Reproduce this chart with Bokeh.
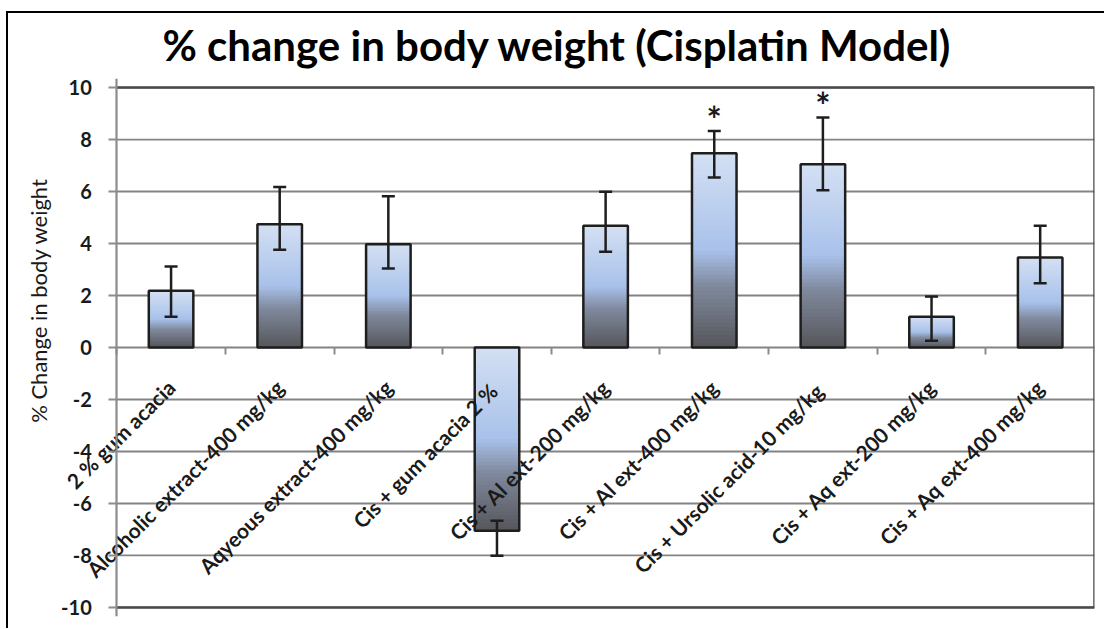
import numpy as np
from bokeh.plotting import figure
from bokeh.models import (Range1d, FixedTicker, LinearAxis, ColumnDataSource,
                          Whisker, TeeHead)
from bokeh.core.properties import value
from bokeh.embed import file_html
from bokeh.resources import INLINE

# ---------------- data ----------------
categories = [
    "2 % gum acacia",
    "Alcoholic extract-400 mg/kg",
    "Aqyeous extract-400 mg/kg",
    "Cis + gum  acacia 2 %",
    "Cis + Al ext-200 mg/kg",
    "Cis + Al ext-400 mg/kg",
    "Cis + Ursolic acid-10  mg/kg",
    "Cis + Aq ext-200 mg/kg",
    "Cis + Aq ext-400 mg/kg",
]
mean_change = [2.18, 4.74, 3.97, -7.05, 4.68, 7.47, 7.05, 1.18, 3.46]
err_plus = [0.94, 1.44, 1.85, 0.38, 1.31, 0.86, 1.80, 0.78, 1.22]
err_minus = [1.00, 0.98, 0.93, 0.96, 1.00, 0.93, 1.00, 0.92, 0.99]
significance = ["", "", "", "", "", "*", "*", "", ""]
y_ticks = [-10, -8, -6, -4, -2, 0, 2, 4, 6, 8, 10]

title_text = "% change in body weight (Cisplatin Model)"
y_title = "% Change in body weight"

# ---------------- style ----------------
FONT = "Lato"
n = len(categories)
xc = [i + 0.5 for i in range(n)]
bar_w = 0.41
left_pad = 1.07         # room (in category widths) for the y axis, inside the frame
y_pad = 0.35            # room so that the end tick labels are not clipped
GRID = "#838383"
INK = "#1a1a1a"

stops = [(0.0, (212, 224, 243)), (0.5, (168, 193, 234)),
         (0.68, (128, 138, 158)), (1.0, (86, 86, 90))]


def grad(t):
    for (t0, c0), (t1, c1) in zip(stops[:-1], stops[1:]):
        if t <= t1:
            f = (t - t0) / (t1 - t0)
            r, g, b = [int(round(a + (bb - a) * f)) for a, bb in zip(c0, c1)]
            return "#%02x%02x%02x" % (r, g, b)
    return "#%02x%02x%02x" % stops[-1][1]


# nested slices (each runs to the bar's bottom) -> seamless vertical gradient
NSLICE = 48
sl = dict(left=[], right=[], top=[], bottom=[], color=[])
for i, v in enumerate(mean_change):
    hi = max(v, 0.0)
    lo = min(v, 0.0)
    span = abs(v)
    for k in range(NSLICE):
        sl["left"].append(xc[i] - bar_w / 2)
        sl["right"].append(xc[i] + bar_w / 2)
        sl["top"].append(hi - span * k / NSLICE)
        sl["bottom"].append(lo)
        sl["color"].append(grad((k + 0.5) / NSLICE))

bars = ColumnDataSource(dict(
    x=xc, top=[max(v, 0) for v in mean_change], bottom=[min(v, 0) for v in mean_change],
    upper=[v + e for v, e in zip(mean_change, err_plus)],
    lower=[v - e for v, e in zip(mean_change, err_minus)],
))

p = figure(width=1104, height=628, x_range=Range1d(-left_pad, n),
           y_range=Range1d(y_ticks[0] - y_pad, y_ticks[-1] + y_pad),
           output_backend="svg", toolbar_location=None,
           x_axis_location=None, y_axis_location=None,
           min_border_left=0, min_border_right=10, min_border_top=78,
           min_border_bottom=12, title=title_text)
# white page with the outer chart border (top and left edges) drawn behind the
# transparent canvas, as in the reference
p.styles = {"background":
            "linear-gradient(#000,#000) 6px 11px / 2px 100% no-repeat, "
            "linear-gradient(#000,#000) 6px 11px / 100% 2px no-repeat, #ffffff"}
p.background_fill_color = None
p.border_fill_color = None
p.outline_line_color = None
p.xgrid.visible = False
p.ygrid.visible = False

p.title.text_font = FONT
p.title.text_font_size = "42px"
p.title.text_font_style = "bold"
p.title.text_color = "black"
p.title.align = "left"
p.title.offset = 162
p.title.standoff = 18

# horizontal grid lines across the plot area only
p.segment(x0=[0] * len(y_ticks), x1=[n] * len(y_ticks), y0=y_ticks, y1=y_ticks,
          line_color=GRID, line_width=1.9)
# plot-area border: dark top, right and bottom edges (left edge is the grey axis line)
p.multi_line(xs=[[0, n, n, 0]], ys=[[y_ticks[-1], y_ticks[-1], y_ticks[0], y_ticks[0]]],
             line_color="#4a4a4a", line_width=2.5)

# y axis at x = 0
ya = LinearAxis(fixed_location=0, ticker=FixedTicker(ticks=y_ticks),
                major_label_overrides={t: str(t) for t in y_ticks},
                axis_line_color="#8c8c8c", axis_line_width=2.2,
                major_tick_line_color="#8c8c8c", major_tick_line_width=2,
                major_tick_out=8, major_tick_in=0, minor_tick_line_color=None,
                major_label_text_font=FONT, major_label_text_font_style="bold",
                major_label_text_font_size="20px", major_label_text_color=INK,
                major_label_standoff=17)
p.add_layout(ya, "left")

# y-axis title, a little above the frame's centre as in the reference
p.text(x=[0], y=[0], text=[y_title], angle=np.pi / 2, x_offset=-78, y_offset=-47,
       text_align="center", text_baseline="middle",
       text_font=value(FONT), text_font_size="22px", text_color=INK)

# category tick marks on the zero line
bounds = list(range(n + 1))
tick_axis = LinearAxis(fixed_location=0, ticker=FixedTicker(ticks=bounds),
                       major_label_overrides={b: "" for b in bounds},
                       axis_line_color=None, major_tick_out=7, major_tick_in=0,
                       major_tick_line_color="#8c8c8c", major_tick_line_width=2,
                       minor_tick_line_color=None)
p.add_layout(tick_axis, "below")

# category labels, slanted, hanging from the zero line
label_axis = LinearAxis(fixed_location=0, ticker=FixedTicker(ticks=xc),
                        major_label_overrides={x: c for x, c in zip(xc, categories)},
                        major_label_orientation=np.pi / 4,
                        axis_line_color=None, major_tick_out=0, major_tick_in=0,
                        major_tick_line_color=None, minor_tick_line_color=None,
                        major_label_standoff=36,
                        major_label_text_font=FONT, major_label_text_font_style="bold",
                        major_label_text_font_size="21px", major_label_text_color=INK)
p.add_layout(label_axis, "below")

# gradient bars
p.quad(left="left", right="right", top="top", bottom="bottom", source=ColumnDataSource(sl),
       fill_color="color", line_color=None)
p.vbar(x="x", top="top", bottom="bottom", width=bar_w, source=bars,
       fill_color=None, line_color="#1e1e1e", line_width=2.5)

# error bars
p.add_layout(Whisker(base="x", upper="upper", lower="lower", source=bars, level="overlay",
                     line_color="#1e1e1e", line_width=2.5,
                     upper_head=TeeHead(size=13, line_color="#1e1e1e", line_width=2.5),
                     lower_head=TeeHead(size=13, line_color="#1e1e1e", line_width=2.5)))

# significance marks
sig_idx = [i for i, s in enumerate(significance) if s]
p.text(x=[xc[i] for i in sig_idx],
       y=[mean_change[i] + err_plus[i] for i in sig_idx],
       text=[significance[i] for i in sig_idx],
       text_align="center", text_baseline="middle", y_offset=-12,
       text_font=value(FONT), text_font_style="bold", text_font_size="36px",
       text_color=INK)

open("out.html", "w").write(file_html(p, INLINE))
